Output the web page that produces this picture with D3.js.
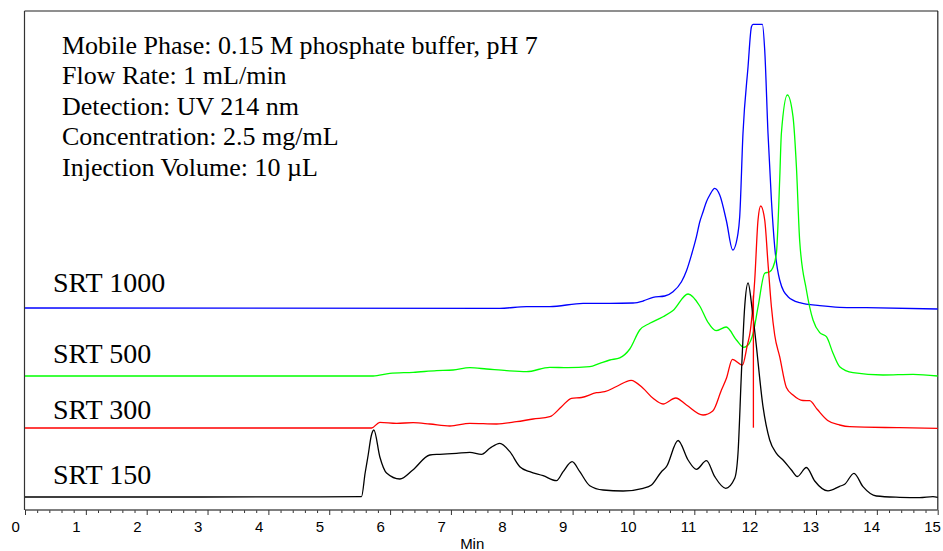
<!DOCTYPE html>
<html><head><meta charset="utf-8">
<script src="https://cdn.jsdelivr.net/npm/d3@7"></script>
<style>html,body{margin:0;padding:0;background:#fff;} svg{display:block;}</style>
</head><body>
<svg id="c" width="943" height="551"></svg>
<script>
// ---------- data (time in min, detector signal in arbitrary units) ----------
const seriesNames = ["SRT 1000", "SRT 500", "SRT 300", "SRT 150"];
const seriesColors = ["#0000ff", "#00ff00", "#ff0000", "#000000"];
const seriesOffsets = [202, 134, 82, 13];   // baseline offset of each stacked trace

const t1000 = [0, 7.804, 8.242, 8.625, 9.172, 9.611, 9.993, 10.158, 10.322, 10.514, 10.650, 10.789, 10.870, 10.953, 11.035, 11.089, 11.143, 11.199, 11.254, 11.336, 11.418, 11.528, 11.631, 11.718, 11.746, 11.800, 11.883, 11.939, 11.965, 12.04, 12.119, 12.157, 12.211, 12.267, 12.321, 12.403, 12.540, 12.732, 13.061, 13.389, 13.827, 15];
const v1000 = [0, -0.3, 1.3, 1.3, 4.7, 4.7, 5, 7, 10.7, 12, 16.3, 26.3, 37, 53, 71.3, 86, 96, 106.3, 113, 119.7, 113, 87, 58, 74.7, 91.3, 174.7, 241.3, 281.3, 283.7, 283.7, 283.7, 258, 174.7, 108, 61.3, 28, 11.3, 5.3, 2.3, 0.7, 0.3, -1];

const t500 = [0, 5.722, 5.996, 6.379, 6.764, 7.036, 7.311, 7.585, 7.914, 8.242, 8.625, 8.921, 9.282, 9.446, 9.611, 9.775, 9.939, 10.103, 10.268, 10.486, 10.650, 10.897, 11.089, 11.221, 11.357, 11.524, 11.692, 11.812, 11.883, 11.966, 12.048, 12.157, 12.239, 12.288, 12.349, 12.403, 12.431, 12.530, 12.622, 12.678, 12.732, 12.842, 12.951, 13.061, 13.171, 13.280, 13.389, 13.608, 14.101, 14.594, 15];
const v500 = [0, 0, 2.7, 3.7, 5.3, 6, 8.3, 7, 5.3, 4.3, 8.7, 8.3, 9.3, 12.7, 16, 18.2, 27, 46, 52.7, 59.3, 65.5, 82, 70, 54, 45.3, 49, 36, 28.7, 31, 42.7, 69.3, 102.7, 104.3, 108, 122.7, 196, 242.7, 281, 259.3, 209.3, 135, 86, 56, 43.3, 39.3, 22.7, 9.3, 3.3, 1, 1.7, 0];

const t300 = [0, 5.696, 5.832, 6.107, 6.379, 6.653, 6.982, 7.311, 7.749, 8.078, 8.351, 8.625, 8.817, 8.981, 9.146, 9.392, 9.529, 9.721, 9.961, 10.158, 10.322, 10.486, 10.695, 10.871, 11.143, 11.303, 11.446, 11.528, 11.626, 11.791, 11.866, 11.922, 11.993, 12.047, 12.091, 12.157, 12.211, 12.267, 12.321, 12.403, 12.513, 12.622, 12.786, 12.896, 13.019, 13.192, 13.389, 13.553, 14.375, 15];
const v300 = [0, 0, 5.7, 4.7, 5.3, 4, 2, 4.7, 4, 6.3, 9, 11.3, 21.3, 29.7, 30.5, 35.3, 36.3, 41.5, 47.7, 39.7, 29.7, 24, 30, 23, 13, 17, 38, 49.7, 68.7, 63, 81.3, 98, 148, 208, 222, 208, 164.7, 121.3, 93, 71.3, 40.5, 33, 27.5, 27.3, 18.7, 7.5, 3, 1.3, 0.3, -0.3];
const spike300Time = 11.971;   // single-sample artefact dropping to baseline
const spike300Low = 0.3;

const t150 = [0, 2.9, 5.53, 5.59, 5.64, 5.69, 5.734, 5.832, 5.942, 6.161, 6.374, 6.653, 6.818, 7.092, 7.311, 7.503, 7.639, 7.804, 7.968, 8.132, 8.296, 8.515, 8.735, 8.844, 8.991, 9.118, 9.282, 9.501, 9.829, 10.158, 10.296, 10.460, 10.542, 10.733, 10.897, 11.035, 11.199, 11.336, 11.516, 11.664, 11.718, 11.774, 11.828, 11.883, 11.952, 12.009, 12.129, 12.239, 12.349, 12.458, 12.596, 12.694, 12.842, 12.979, 13.197, 13.389, 13.471, 13.624, 13.772, 13.992, 14.375, 14.704, 14.922, 15];
const v150 = [0, 0, 0.3, 24, 42, 61, 67, 40, 24, 18, 27, 42, 42.7, 43.7, 44.7, 42.7, 48.7, 53.7, 45.3, 30.3, 25.3, 21.3, 16.3, 25.3, 35.3, 25.3, 11.3, 7, 6, 8.7, 12, 25.3, 30.3, 56.5, 37, 27.7, 36.3, 20.3, 8.7, 18.7, 43.7, 123.7, 190.3, 214, 187, 157, 90.3, 57, 43.7, 37, 27, 20.5, 29.5, 16, 6.2, 10.7, 12.7, 23.7, 10.3, 1, -0.3, -0.7, 0.3, -0.3];

const majorTicks = d3.range(0, 16);
const minorTicks = d3.range(0, 75).map(i => i / 5).filter(v => v % 1 !== 0);
const xTitle = "Min";
const infoLines = [
  "Mobile Phase: 0.15 M phosphate buffer, pH 7",
  "Flow Rate: 1 mL/min",
  "Detection: UV 214 nm",
  "Concentration: 2.5 mg/mL",
  "Injection Volume: 10 \u00B5L"
];

// ---------- drawing ----------
const svg = d3.select("#c");
const x = d3.scaleLinear().domain([0, 15]).range([25, 937.7]);
const y = d3.scaleLinear().domain([0, 499]).range([510, 11]);

const seriesT = [t1000, t500, t300, t150];
const seriesV = [v1000, v500, v300, v150];

// frame
svg.append("line").attr("x1", 24.5).attr("x2", 938).attr("y1", 11).attr("y2", 11)
  .attr("stroke", "#6a6a6a").attr("stroke-width", 1.3);
svg.append("line").attr("x1", 24.5).attr("x2", 24.5).attr("y1", 11).attr("y2", 510)
  .attr("stroke", "#333").attr("stroke-width", 1.2);
svg.append("line").attr("x1", 937.8).attr("x2", 937.8).attr("y1", 11).attr("y2", 510)
  .attr("stroke", "#222").attr("stroke-width", 1.2);

// traces
const line = d3.line().curve(d3.curveMonotoneX);
seriesNames.forEach((name, i) => {
  const pts = seriesT[i].map((t, k) => [x(t), y(seriesOffsets[i] + seriesV[i][k])]);
  svg.append("path").attr("d", line(pts)).attr("fill", "none")
    .attr("stroke", seriesColors[i]).attr("stroke-width", 1.3);
});

// artefact spike on SRT 300 trace
(function () {
  const i = 2;
  const ts = seriesT[i], vs = seriesV[i];
  let k = 0; while (ts[k + 1] < spike300Time) k++;
  const f = (spike300Time - ts[k]) / (ts[k + 1] - ts[k]);
  const vTop = vs[k] + f * (vs[k + 1] - vs[k]);
  svg.append("line").attr("x1", x(spike300Time)).attr("x2", x(spike300Time))
    .attr("y1", y(seriesOffsets[i] + vTop)).attr("y2", y(seriesOffsets[i] + spike300Low))
    .attr("stroke", seriesColors[i]).attr("stroke-width", 1.3);
})();

// x axis
const axisG = svg.append("g").attr("transform", "translate(0,510)");
axisG.call(d3.axisBottom(x).tickValues(minorTicks).tickSize(3).tickFormat(""));
axisG.call(g => g.select(".domain").remove());
const axisMaj = svg.append("g").attr("transform", "translate(0,510)");
axisMaj.call(d3.axisBottom(x).tickValues(majorTicks).tickSize(5).tickFormat(d3.format("d")));
axisMaj.select(".domain").attr("d", `M${x(0)},0H${x(15)}`).attr("stroke", "#555").attr("stroke-width", 1.3);
svg.selectAll(".tick line").attr("stroke", "#333");
axisMaj.selectAll("text")
  .attr("text-anchor", "start").attr("x", -14).attr("y", 22).attr("dy", 0)
  .attr("font-family", "'Liberation Sans', Arial, sans-serif").attr("font-size", 15).attr("fill", "#000");
svg.append("text").attr("x", x(7.35)).attr("y", 549).attr("text-anchor", "middle")
  .attr("font-family", "'Liberation Sans', Arial, sans-serif").attr("font-size", 15).text(xTitle);

// info text block
const info = svg.append("text").attr("font-family", "'Liberation Serif', 'Times New Roman', serif")
  .attr("font-size", 26).attr("fill", "#000");
infoLines.forEach((s, i) => {
  info.append("tspan").attr("x", 62).attr("y", 53.5 + i * 30.6).text(s);
});

// series labels
const labelY = [292.3, 362.7, 419.3, 484.3];
seriesNames.forEach((name, i) => {
  svg.append("text").attr("x", 53).attr("y", labelY[i])
    .attr("font-family", "'Liberation Serif', 'Times New Roman', serif")
    .attr("font-size", 28).attr("fill", "#000").text(name);
});
</script>
</body></html>
